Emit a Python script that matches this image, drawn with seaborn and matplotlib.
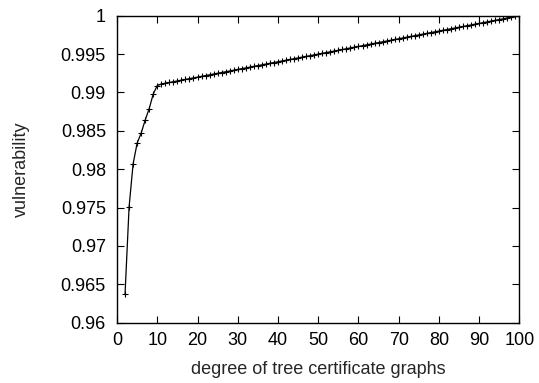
import matplotlib
matplotlib.use("Agg")
import matplotlib.pyplot as plt
from matplotlib.ticker import FuncFormatter, MultipleLocator
import seaborn as sns
import pandas as pd

degree = list(range(2, 101))
vulnerability = [
    0.9638, 0.9751, 0.9807, 0.9834, 0.9847, 0.9864, 0.9879, 0.9898, 0.9909,
    0.9911, 0.9912, 0.9913, 0.9914, 0.9915, 0.9916, 0.9917, 0.9918, 0.9919, 0.9920,
    0.9921, 0.9922, 0.9923, 0.9924, 0.9925, 0.9926, 0.9927, 0.9928, 0.9929, 0.9930,
    0.9931, 0.9932, 0.9933, 0.9934, 0.9935, 0.9936, 0.9937, 0.9938, 0.9939, 0.9940,
    0.9941, 0.9942, 0.9943, 0.9944, 0.9945, 0.9946, 0.9947, 0.9948, 0.9949, 0.9950,
    0.9951, 0.9952, 0.9953, 0.9954, 0.9955, 0.9956, 0.9957, 0.9958, 0.9959, 0.9960,
    0.9961, 0.9962, 0.9963, 0.9964, 0.9965, 0.9966, 0.9967, 0.9968, 0.9969, 0.9970,
    0.9971, 0.9972, 0.9973, 0.9974, 0.9975, 0.9976, 0.9977, 0.9978, 0.9979, 0.9980,
    0.9981, 0.9982, 0.9983, 0.9984, 0.9985, 0.9986, 0.9987, 0.9988, 0.9989, 0.9990,
    0.9991, 0.9992, 0.9993, 0.9994, 0.9995, 0.9996, 0.9997, 0.9998, 0.9999, 1.0000,
]
x_label = "degree of tree certificate graphs"
y_label = "vulnerability"

sns.set_style("ticks")
plt.rcParams["font.family"] = ["Liberation Sans", "DejaVu Sans"]
plt.rcParams["font.size"] = 13

df = pd.DataFrame({"degree": degree, "vulnerability": vulnerability})

fig = plt.figure(figsize=(5.39, 3.83), dpi=100)
ax = fig.add_axes([0.2171, 0.1574, 0.7467, 0.8016])
sns.lineplot(data=df, x="degree", y="vulnerability", ax=ax, color="black",
             linewidth=0.9, marker="+", markersize=4.5, markeredgewidth=0.8,
             markeredgecolor="black")

ax.set_xlim(0, 100)
ax.set_ylim(0.96, 1.0)
ax.xaxis.set_major_locator(MultipleLocator(10))
ax.yaxis.set_major_locator(MultipleLocator(0.005))
ax.yaxis.set_major_formatter(FuncFormatter(lambda v, p: f"{round(v, 4):g}"))
ax.tick_params(direction="in", top=True, right=True, length=5, width=0.8,
               labelsize=13, colors="black")
ax.tick_params(axis="y", pad=8)
ax.tick_params(axis="x", pad=7)
for s in ax.spines.values():
    s.set_visible(True)
    s.set_color("black")
    s.set_linewidth(1.0)
ax.set_xlabel(x_label, fontsize=13, labelpad=8)
ax.set_ylabel(y_label, fontsize=13, labelpad=22)

fig.savefig("out.png", dpi=100)
